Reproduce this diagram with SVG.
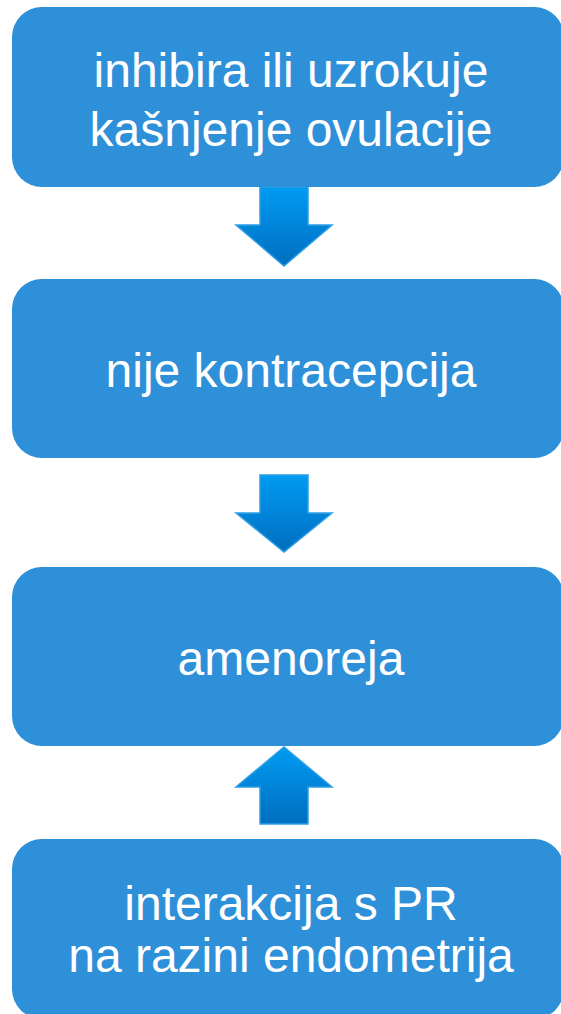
<svg xmlns="http://www.w3.org/2000/svg" width="561" height="1014" viewBox="0 0 561 1014">
<defs>
<linearGradient id="ag" x1="0" y1="0" x2="0" y2="1">
<stop offset="0" stop-color="#009BF2"/>
<stop offset="1" stop-color="#006EBF"/>
</linearGradient>
<style>
.box{fill:#2E90D9;}
.arrow{fill:url(#ag);stroke:#2C9FE6;stroke-width:1.5;stroke-linejoin:miter;}
.t{font-family:"Liberation Sans",Arial,sans-serif;font-size:48px;fill:#FFFFFF;text-anchor:middle;}
</style>
</defs>
<rect width="561" height="1014" fill="#FFFFFF"/>
<g id="connectors">
<path class="arrow" d="M260,187 H308 V225 H332 L284,266 L236,225 H260 Z"/>
<path class="arrow" d="M260,475 H308 V513 H332 L284,552 L236,513 H260 Z"/>
<path class="arrow" d="M260,824 H308 V787 H332 L284,747 L236,787 H260 Z"/>
</g>
<g id="node1">
<rect class="box" x="12" y="7" width="552" height="180" rx="30" ry="30"/>
<text class="t" x="291" y="87">inhibira ili uzrokuje</text>
<text class="t" x="291" y="146">kašnjenje ovulacije</text>
</g>
<g id="node2">
<rect class="box" x="12" y="279" width="552" height="179" rx="30" ry="30"/>
<text class="t" x="291" y="387">nije kontracepcija</text>
</g>
<g id="node3">
<rect class="box" x="12" y="567" width="552" height="179" rx="30" ry="30"/>
<text class="t" x="291" y="675">amenoreja</text>
</g>
<g id="node4">
<rect class="box" x="12" y="839" width="552" height="180" rx="30" ry="30"/>
<text class="t" x="291" y="920">interakcija s PR</text>
<text class="t" x="291" y="972">na razini endometrija</text>
</g>
</svg>
